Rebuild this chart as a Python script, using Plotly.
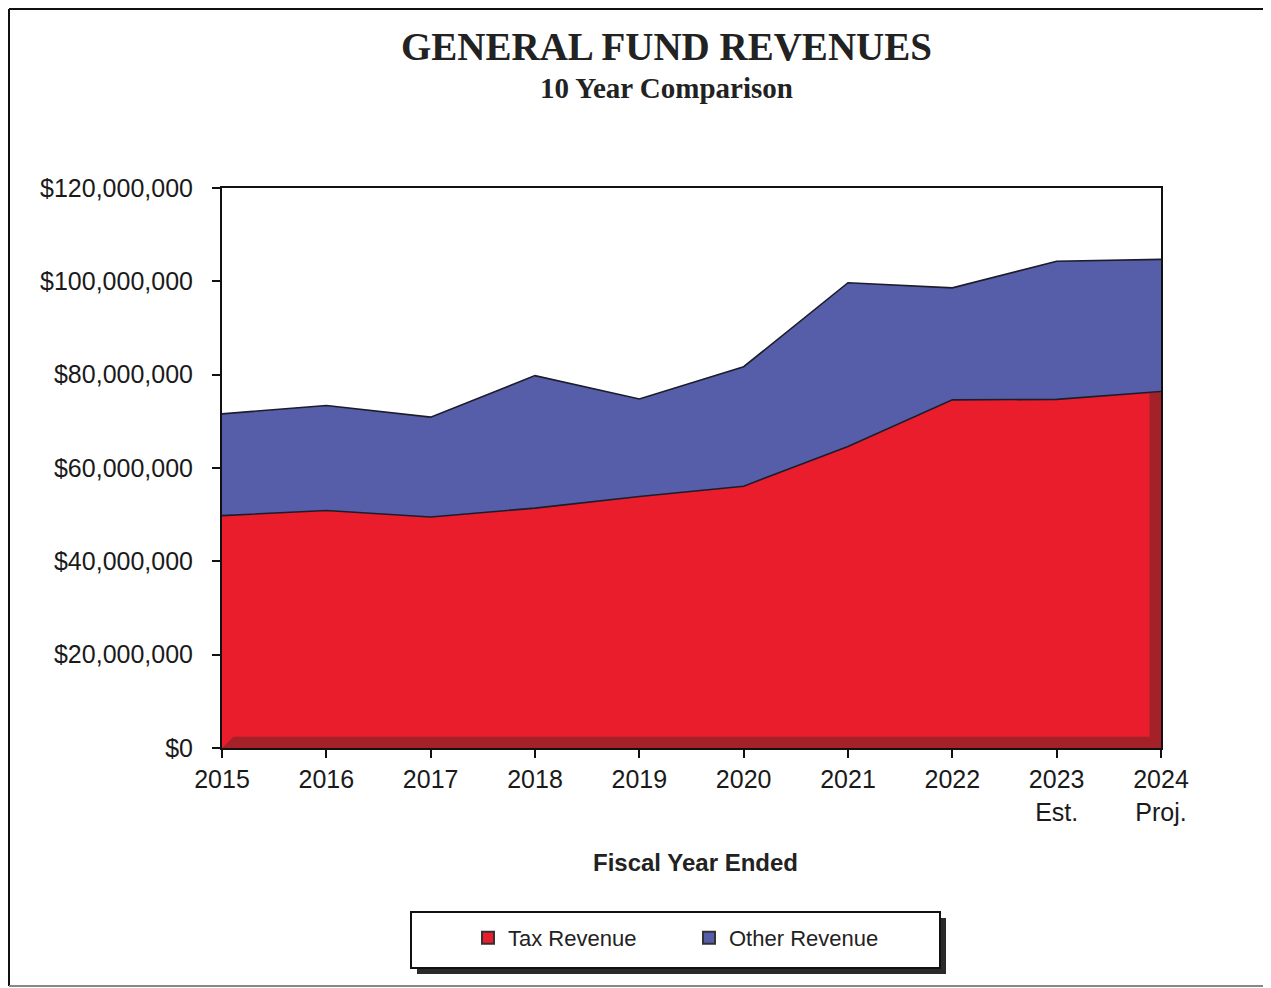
import plotly.graph_objects as go

years = ["2015", "2016", "2017", "2018", "2019", "2020", "2021", "2022", "2023<br>Est.", "2024<br>Proj."]
tax_revenue = [49_800_000, 50_900_000, 49_500_000, 51_400_000, 53_900_000,
               56_100_000, 64_600_000, 74_600_000, 74_700_000, 76_400_000]
other_revenue = [21_800_000, 22_500_000, 21_400_000, 28_400_000, 20_900_000,
                 25_600_000, 35_100_000, 24_000_000, 29_600_000, 28_300_000]
y_tick_values = [0, 20_000_000, 40_000_000, 60_000_000, 80_000_000, 100_000_000, 120_000_000]
y_tick_labels = ["$0", "$20,000,000", "$40,000,000", "$60,000,000", "$80,000,000",
                 "$100,000,000", "$120,000,000"]

RED = "#EA1D2C"
BLUE = "#565EA9"
EDGE = "#1c1c2a"
SANS = "Arial, Liberation Sans, sans-serif"
SERIF = "Times New Roman, Liberation Serif, serif"

x = list(range(len(years)))

fig = go.Figure()
fig.add_trace(go.Scatter(x=x, y=tax_revenue, stackgroup="rev", mode="lines",
                         line=dict(color=EDGE, width=1.6), fillcolor=RED,
                         name="Tax Revenue", showlegend=False, hoverinfo="skip"))
fig.add_trace(go.Scatter(x=x, y=other_revenue, stackgroup="rev", mode="lines",
                         line=dict(color=EDGE, width=1.6), fillcolor=BLUE,
                         name="Other Revenue", showlegend=False, hoverinfo="skip"))
# legend entries (square swatches)
for nm, col in [("Tax Revenue", RED), ("Other Revenue", BLUE)]:
    fig.add_trace(go.Scatter(x=[None], y=[None], mode="markers", name=nm,
                             marker=dict(symbol="square", size=14, color=col,
                                         line=dict(color="#333", width=1))))

# page body has an 8px margin; figure coordinates are shifted accordingly
OFF = 8
W, H = 1271 - OFF, 988 - OFF
L, R, T, B = 222 - OFF, 110, 188 - OFF, 240
pw, ph = W - L - R, H - T - B

def px(xp):
    return (xp - OFF - L) / pw

def py(yp):
    return (H - B - (yp - OFF)) / ph

shapes = []
# page frame
shapes.append(dict(type="line", xref="paper", yref="paper", x0=px(9), x1=px(1271), y0=py(9), y1=py(9),
                   line=dict(color="#111", width=2)))
shapes.append(dict(type="line", xref="paper", yref="paper", x0=px(9), x1=px(9), y0=py(9), y1=py(986),
                   line=dict(color="#111", width=2)))
shapes.append(dict(type="line", xref="paper", yref="paper", x0=px(9), x1=px(1271), y0=py(986), y1=py(986),
                   line=dict(color="#888", width=2)))

# 3D depth effect on the tax area (floor + right side)
n = len(x) - 1
depth_y = 2_400_000
depth_x = 0.11
floor = f"M 0,0 L {n},0 L {n},{depth_y} L {depth_x},{depth_y} Z"
shapes.append(dict(type="path", xref="x", yref="y", path=floor,
                   fillcolor="rgba(80,40,40,0.45)", line=dict(width=0), layer="above"))
top_end = tax_revenue[-1]
top_in = tax_revenue[-1] - depth_x * (tax_revenue[-1] - tax_revenue[-2])
side = f"M {n - depth_x},{depth_y} L {n - depth_x},{top_in} L {n},{top_end} L {n},{depth_y} Z"
shapes.append(dict(type="path", xref="x", yref="y", path=side,
                   fillcolor="rgba(80,40,40,0.45)", line=dict(width=0), layer="above"))

# legend box with shadow
shapes.append(dict(type="rect", xref="paper", yref="paper", x0=px(417), x1=px(946), y0=py(974), y1=py(918),
                   fillcolor="#2a2a2a", line=dict(width=0)))
shapes.append(dict(type="rect", xref="paper", yref="paper", x0=px(411), x1=px(940), y0=py(968), y1=py(912),
                   fillcolor="white", line=dict(color="#111", width=2)))

annotations = [
    dict(text="<b>GENERAL FUND REVENUES</b>", xref="paper", yref="paper", x=px(666), y=py(46),
         xanchor="center", yanchor="middle", showarrow=False,
         font=dict(family=SERIF, size=39, color="#222")),
    dict(text="<b>10 Year Comparison</b>", xref="paper", yref="paper", x=px(666), y=py(88),
         xanchor="center", yanchor="middle", showarrow=False,
         font=dict(family=SERIF, size=29, color="#222")),
    dict(text="<b>Fiscal Year Ended</b>", xref="paper", yref="paper", x=px(695), y=py(862),
         xanchor="center", yanchor="middle", showarrow=False,
         font=dict(family=SANS, size=24, color="#222")),
]

fig.update_layout(
    width=W, height=H, autosize=False,
    margin=dict(l=L, r=R, t=T, b=B),
    paper_bgcolor="white", plot_bgcolor="white",
    shapes=shapes, annotations=annotations,
    showlegend=True,
    legend=dict(orientation="h", traceorder="normal", x=px(468), xanchor="left", y=py(938), yanchor="middle",
                bgcolor="rgba(0,0,0,0)", borderwidth=0, entrywidth=176, entrywidthmode="pixels",
                font=dict(family=SANS, size=22, color="#222"), itemsizing="constant"),
    xaxis=dict(range=[0, n], tickmode="array", tickvals=x, ticktext=years,
               showgrid=False, zeroline=False, showline=True, mirror=True,
               linecolor="#111", linewidth=2, ticks="outside", ticklen=8, tickwidth=2,
               tickcolor="#111", tickfont=dict(family=SANS, size=25, color="#1a1a1a")),
    yaxis=dict(range=[0, 120_000_000], tickmode="array", tickvals=y_tick_values, ticktext=y_tick_labels,
               showgrid=False, zeroline=False, showline=True, mirror=True,
               linecolor="#111", linewidth=2, ticks="outside", ticklen=8, tickwidth=2,
               tickcolor="#111", ticklabelstandoff=14,
               tickfont=dict(family=SANS, size=25, color="#1a1a1a")),
)

fig.write_html("out.html")
